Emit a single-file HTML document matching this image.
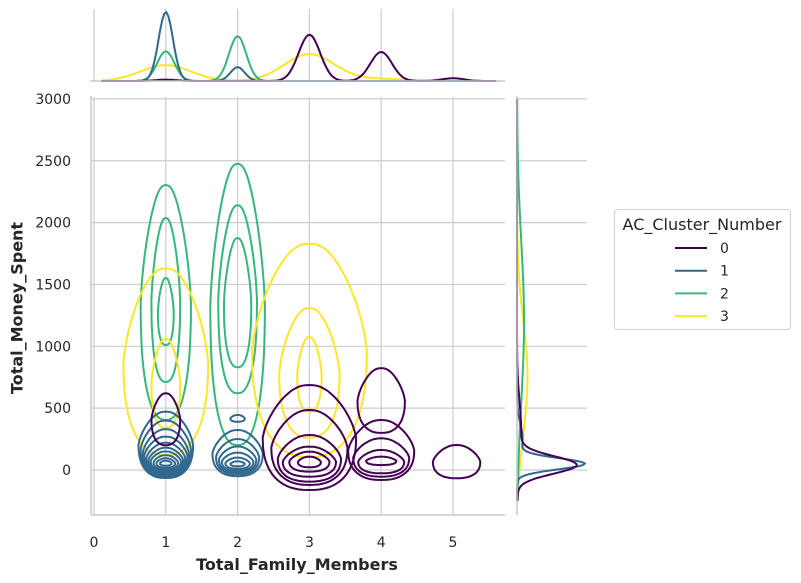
<!DOCTYPE html>
<html><head><meta charset="utf-8"><style>
body{margin:0;background:#fff}
svg{display:block;font-family:"DejaVu Sans","Liberation Sans",sans-serif}
</style></head><body>
<svg id="chart" width="801" height="583" viewBox="0 0 801 583" xmlns="http://www.w3.org/2000/svg">
<g id="grid"></g>
<g id="contours"></g>
<g id="margTop"></g>
<g id="margRight"></g>
<g id="axes"></g>
<text x="17" y="308" transform="rotate(-90 17 308)" text-anchor="middle" dominant-baseline="central" font-size="16" font-weight="bold" fill="#262626">Total_Money_Spent</text>
<text x="297" y="570" text-anchor="middle" font-size="16" font-weight="bold" fill="#262626">Total_Family_Members</text>
<g>
<rect x="614.5" y="209.5" width="176" height="120" rx="3" fill="#fff" stroke="#d0d0d0"/>
<text x="702" y="230" text-anchor="middle" font-size="16" fill="#262626">AC_Cluster_Number</text>
<g id="legendEntries"></g>
</g>
</svg>
<script>
const clusterNames=["0","1","2","3"];
const colors=["#440154","#31688e","#35b779","#fde725"];
const xTicks=[0,1,2,3,4,5];
const yTicks=[0,500,1000,1500,2000,2500,3000];
// contours: [cluster, centerX, moneyBottom, moneyTop, halfWidth]
const contour0=[[0,1,200,620,0.2],
 [0,3,-162,687,0.65],[0,3,-121,485,0.53],[0,3,-94,283,0.44],[0,3,-54,189,0.37],[0,3,-13,148,0.28],[0,3,22,108,0.16],
 [0,4,300,823,0.33],[0,4,-81,404,0.46],[0,4,-54,256,0.39],[0,4,-27,162,0.32],[0,4,40,108,0.21],
 [0,5.05,-67,202,0.33]];
const contour1=[[1,1,-65,472,0.38],[1,1,-55,400,0.35],[1,1,-45,330,0.32],[1,1,-35,270,0.3],[1,1,-25,220,0.27],[1,1,-15,180,0.24],[1,1,-5,150,0.21],[1,1,5,120,0.17],[1,1,18,95,0.13],[1,1,35,75,0.08],
 [1,2,-50,323,0.35],[1,2,-35,250,0.3],[1,2,-20,190,0.26],[1,2,-5,140,0.22],[1,2,10,100,0.17],[1,2,30,70,0.1],[1,2,390,445,0.1]];
const contour2=[[2,1,404,2304,0.35],[2,1,711,2037,0.2],[2,1,1010,1552,0.11],
 [2,2,200,2475,0.38],[2,2,620,2140,0.27],[2,2,830,1875,0.19]];
const contour3=[[3,1,120,1630,0.59],[3,1,340,1060,0.2],
 [3,3,105,1830,0.8],[3,3,260,1310,0.42],[3,3,470,1075,0.17]];
// top marginal: peak density per family size 1..5 for each cluster
const famSizes=[1,2,3,4,5];
const topDens0=[0.02,0,0.67,0.42,0.04];
const topDens1=[1.0,0.2,0,0,0];
const topDens2=[0.43,0.65,0,0,0];
const topDens3=[0.23,0,0.39,0.03,0];
const topSigma=[0.15,0.1,0.12,0.35];
// right marginal: gaussian components [center, sigma, amp]
const right0=[[40,70,0.82],[300,250,0.06]];
const right1=[[50,45,0.95],[250,120,0.08]];
const right2=[[1200,650,0.1]];
const right3=[[750,450,0.15]];

const NS="http://www.w3.org/2000/svg";
const X=v=>94+v*71.8;
const Y=v=>470-v*0.1237;
function mk(tag,attrs,parent){const e=document.createElementNS(NS,tag);for(const k in attrs)e.setAttribute(k,attrs[k]);parent.appendChild(e);return e;}
const grid=document.getElementById('grid');
const axes=document.getElementById('axes');
xTicks.forEach(t=>{
 const l=mk('line',{x1:X(t),x2:X(t),y1:97,y2:515,stroke:'#cccccc','stroke-width':1.2},grid);
 
 
 const l2=mk('line',{x1:X(t),x2:X(t),y1:9,y2:81,stroke:'#cccccc','stroke-width':1.2},grid);
 
 
 const tx=mk('text',{x:X(t),y:547,'text-anchor':'middle','font-size':14,fill:'#262626'},axes);
 tx.textContent=t;
 
 
});
yTicks.forEach(t=>{
 const l=mk('line',{x1:91,x2:505,y1:Y(t),y2:Y(t),stroke:'#cccccc','stroke-width':1.2},grid);
 
 
 const l2=mk('line',{x1:517,x2:587,y1:Y(t),y2:Y(t),stroke:'#cccccc','stroke-width':1.2},grid);
 
 
 const tx=mk('text',{x:71,y:Y(t)+5,'text-anchor':'end','font-size':14,fill:'#262626'},axes);
 tx.textContent=t;
 
 
});
[[91,96,91,515],[91,515,505,515],[90,81,505,81],[517,96,517,515]].forEach(s=>{
 const l=mk('line',{x1:s[0],y1:s[1],x2:s[2],y2:s[3],stroke:'#c8c8c8','stroke-width':1.5},axes);
 
 
});
// contours
const cg=document.getElementById('contours');
function shape(c){
 const [k,cx,yb,yt,hw]=c;const mid=(yb+yt)/2,h=(yt-yb)/2,n=2.4;let d='';
 for(let i=0;i<=72;i++){const a=i/72*2*Math.PI;const co=Math.cos(a),si=Math.sin(a);
  const w=hw*(si<0?1:1-0.35*si);
  const px=X(cx+w*Math.sign(co)*Math.pow(Math.abs(co),2/n));
  const py=Y(mid+h*Math.sign(si)*Math.pow(Math.abs(si),2/n));
  d+=(i?'L':'M')+px.toFixed(1)+','+py.toFixed(1);}
 return d+'Z';
}
[contour2,contour3,contour1,contour0].forEach(arr=>arr.forEach(c=>{
 const p=mk('path',{d:shape(c),fill:'none',stroke:colors[c[0]],'stroke-width':2},cg);
 
 
}));
// top marginal
const tg=document.getElementById('margTop');
[topDens3,topDens2,topDens1,topDens0].forEach((dens,ri)=>{
 const k=3-ri;let d='';
 for(let i=0;i<=200;i++){const xv=0.1+i/200*5.5;let v=0;
  famSizes.forEach((f,j)=>{v+=dens[j]*Math.exp(-0.5*Math.pow((xv-f)/topSigma[k],2));});
  d+=(i?'L':'M')+X(xv).toFixed(1)+','+(81-v*69).toFixed(1);}
 const p=mk('path',{d:d,fill:'none',stroke:colors[k],'stroke-width':2},tg);
 
 
});
// right marginal
const rg=document.getElementById('margRight');
[right3,right2,right1,right0].forEach((comps,ri)=>{
 const k=3-ri;let d='';
 for(let i=0;i<=300;i++){const yv=-250+i/300*3250;let v=0;
  comps.forEach(c=>{v+=c[2]*Math.exp(-0.5*Math.pow((yv-c[0])/c[1],2));});
  d+=(i?'L':'M')+(517+v*70).toFixed(1)+','+Y(yv).toFixed(1);}
 const p=mk('path',{d:d,fill:'none',stroke:colors[k],'stroke-width':2},rg);
 
 
});
// legend
const lg=document.getElementById('legendEntries');
clusterNames.forEach((n,i)=>{
 const y=248+i*22.7;
 const l=mk('line',{x1:675,x2:707,y1:y,y2:y,stroke:colors[i],'stroke-width':2},lg);
 
 
 const t=mk('text',{x:720,y:y+5,'font-size':14,fill:'#262626'},lg);
 t.textContent=n;
 
 
});
</script>
</body></html>
